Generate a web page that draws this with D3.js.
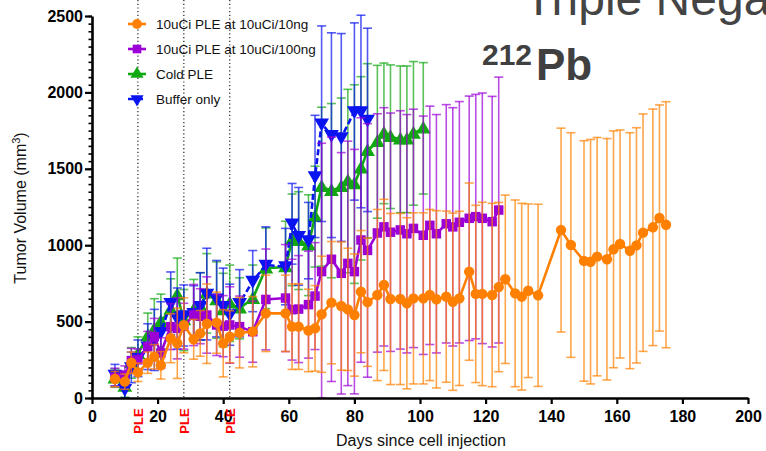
<!DOCTYPE html>
<html><head><meta charset="utf-8">
<script src="https://cdn.jsdelivr.net/npm/d3@7"></script>
<style>body{margin:0;background:#fff;overflow:hidden}svg{display:block}</style>
</head><body><svg id="c" width="766" height="451"></svg>
<script>
// ---------- DATA ----------
const seriesNames = ["10uCi PLE at 10uCi/10ng","10uCi PLE at 10uCi/100ng","Cold PLE","Buffer only"];
const xTicks = [0,20,40,60,80,100,120,140,160,180,200];
const yTicks = [0,500,1000,1500,2000,2500];
const pleDays = [14,28,42];

const orangeDays = [7,10,12,14,17,19,21,24,26,28,31,33,35,38,40,42,45,49,53,59,61,63,66,68,70,73,76,78,80,82,84,87,89,91,94,96,98,101,103,105,108,110,112,115,117,119,122,124,126,129,131,133,136,143,146,150,152,154,157,159,161,164,166,168,171,173,175];
const orangeVals = [124,107,231,168,231,270,214,391,358,476,384,423,486,493,358,401,427,434,554,554,467,467,442,456,548,624,602,580,543,696,627,674,740,648,648,620,652,652,674,646,663,630,652,827,681,681,674,726,777,685,663,702,672,1099,1001,897,892,925,908,973,1008,964,999,1082,1117,1178,1134];
const orangeErr = [50,50,70,60,70,80,90,160,230,180,130,150,260,200,220,170,230,230,250,250,280,280,270,280,380,400,420,400,400,400,420,560,560,560,560,560,560,560,560,580,560,580,570,580,580,600,600,554,551,611,611,568,596,667,735,787,800,780,790,775,746,772,770,777,774,740,805];

const purpleDays = [7,10,12,14,17,19,21,24,26,28,31,33,35,38,40,42,45,49,53,59,61,63,66,68,70,73,76,78,80,82,84,87,89,91,94,96,98,101,103,105,108,110,112,115,117,119,122,124];
const purpleVals = [135,150,245,250,336,401,294,467,456,470,543,535,543,478,470,478,467,434,645,654,578,582,611,667,827,908,816,881,827,1034,966,1080,1120,1085,1100,1075,1110,1065,1130,1075,1140,1120,1150,1176,1187,1176,1154,1230];
const purpleErr = [60,60,80,70,100,120,100,150,200,150,200,180,250,200,200,250,200,200,330,350,330,350,350,350,840,800,790,800,800,800,830,780,780,780,780,780,780,780,780,780,780,780,790,800,800,820,820,870];

const greenDays = [7,10,12,14,17,19,21,24,26,28,31,33,35,38,40,42,45,49,53,59,61,63,66,68,70,73,76,78,80,82,84,87,89,91,94,96,98,101];
const greenVals = [130,75,230,290,406,450,500,580,674,510,576,600,685,641,576,620,587,650,849,857,1035,1030,1000,1187,1383,1357,1383,1420,1400,1503,1618,1677,1732,1710,1693,1693,1732,1765];
const greenErr = [60,70,100,110,150,200,180,200,242,200,200,220,260,250,240,250,200,220,264,300,300,320,330,330,520,570,580,600,650,600,570,500,460,470,480,480,470,430];

const blueDays = [7,10,12,14,17,19,21,24,26,28,31,33,35,38,40,42,45,49,53,59,61,63,66,68,70,73,76,80,82,84];
const blueVals = [150,57,200,260,336,380,430,620,520,540,555,600,680,650,600,545,620,765,870,860,1140,1058,1030,1450,1795,1720,1705,1875,1875,1820];
const blueErr = [70,70,100,120,150,200,200,205,200,200,180,220,300,250,250,200,220,200,250,250,264,320,250,400,640,670,680,580,630,600];

// ---------- SETUP ----------
const svg = d3.select("#c");
const x = d3.scaleLinear().domain([0,200]).range([92,748]);
const y = d3.scaleLinear().domain([0,2500]).range([398,16]);
const FONT = "Arial, 'Liberation Sans', Helvetica, sans-serif";

const series = [
  {name:seriesNames[2], days:greenDays, vals:greenVals, err:greenErr, color:"#12a812", sym:d3.symbolTriangle, rot:0, size:95, dash:null},
  {name:seriesNames[3], days:blueDays, vals:blueVals, err:blueErr, color:"#0a14f0", sym:d3.symbolTriangle, rot:180, size:95, dash:"6,3"},
  {name:seriesNames[1], days:purpleDays, vals:purpleVals, err:purpleErr, color:"#9b00d6", sym:d3.symbolSquare, rot:0, size:90, dash:null},
  {name:seriesNames[0], days:orangeDays, vals:orangeVals, err:orangeErr, color:"#ff8000", sym:d3.symbolCircle, rot:0, size:85, dash:null}
];

// title (clipped at the top edge, as in the reference)
svg.append("text").attr("x",524).attr("y",15).attr("font-family",FONT).attr("font-size",48)
  .attr("fill","#444").text("Triple Negative");
const pb = svg.append("text").attr("font-family",FONT).attr("font-weight","bold").attr("fill","#404040");
pb.append("tspan").attr("x",482).attr("y",65).attr("font-size",30).text("212");
pb.append("tspan").attr("x",536).attr("y",80).attr("font-size",44).text("Pb");

// dotted PLE lines
svg.selectAll("line.ple").data(pleDays).enter().append("line")
  .attr("x1",d=>x(d)).attr("x2",d=>x(d)).attr("y1",0).attr("y2",y(0))
  .attr("stroke","#222").attr("stroke-width",1.2).attr("stroke-dasharray","1.2,2.5");

// series
svg.append("clipPath").attr("id","clp").append("rect").attr("x",80).attr("y",0).attr("width",686).attr("height",400);
series.forEach(s=>{
  const pts = s.days.map((d,i)=>({d, v:s.vals[i], e:s.err[i]}));
  const g = svg.append("g").attr("clip-path","url(#clp)");
  const eb = g.append("g").attr("stroke",s.color).attr("stroke-width",1.6).attr("stroke-opacity",0.7);
  pts.forEach(p=>{
    const lo = Math.max(0,p.v-p.e), hi = p.v+p.e;
    eb.append("line").attr("x1",x(p.d)).attr("x2",x(p.d)).attr("y1",y(lo)).attr("y2",y(hi));
    eb.append("line").attr("x1",x(p.d)-4.5).attr("x2",x(p.d)+4.5).attr("y1",y(hi)).attr("y2",y(hi));
    eb.append("line").attr("x1",x(p.d)-4.5).attr("x2",x(p.d)+4.5).attr("y1",y(lo)).attr("y2",y(lo));
  });
  g.append("path").datum(pts).attr("fill","none").attr("stroke",s.color).attr("stroke-width",2.6)
    .attr("stroke-dasharray",s.dash).attr("d",d3.line().x(p=>x(p.d)).y(p=>y(p.v)));
  g.selectAll("path.m").data(pts).enter().append("path")
    .attr("d",d3.symbol().type(s.sym).size(s.size))
    .attr("transform",p=>`translate(${x(p.d)},${y(p.v)+(s.sym===d3.symbolTriangle?(s.rot?-1:1):0)}) rotate(${s.rot})`)
    .attr("fill",s.color);
});

// axes
const yMinor = svg.append("g").attr("transform","translate(92,0)")
  .call(d3.axisLeft(y).tickValues(d3.range(0,2501,50)).tickSize(3.5).tickFormat(""));
yMinor.select(".domain").remove();
yMinor.selectAll("line").attr("stroke","#000").attr("stroke-width",1.6);
const yAx = svg.append("g").attr("transform","translate(92,0)")
  .call(d3.axisLeft(y).tickValues(yTicks).tickFormat(d3.format("d")).tickSize(7).tickSizeOuter(0).tickPadding(2));
yAx.select(".domain").attr("stroke","#000").attr("stroke-width",2.6);
yAx.selectAll("line").attr("stroke","#000").attr("stroke-width",2.2);
yAx.selectAll("text").attr("font-family",FONT).attr("font-weight","bold").attr("font-size",16).attr("fill","#000");

const xAx = svg.append("g").attr("transform","translate(0,398)")
  .call(d3.axisBottom(x).tickValues(xTicks).tickFormat(d3.format("d")).tickSize(6).tickSizeOuter(0).tickPadding(7));
xAx.select(".domain").attr("stroke","#000").attr("stroke-width",2.6);
xAx.selectAll("line").attr("stroke","#000").attr("stroke-width",2.2);
xAx.selectAll("text").attr("font-family",FONT).attr("font-weight","bold").attr("font-size",16).attr("fill","#000");

// PLE labels
svg.selectAll("text.ple").data(pleDays).enter().append("text")
  .attr("transform",d=>`translate(${x(d)+5},${421}) rotate(-90)`)
  .attr("text-anchor","middle").attr("font-family",FONT).attr("font-weight","bold")
  .attr("font-size",13).attr("fill","#ff0000").text("PLE");

// axis titles
svg.append("text").attr("x",421).attr("y",446).attr("text-anchor","middle")
  .attr("font-family",FONT).attr("font-size",16).attr("fill","#111").text("Days since cell injection");
const yt = svg.append("text").attr("transform","translate(26,208) rotate(-90)").attr("text-anchor","middle")
  .attr("font-family",FONT).attr("font-size",16).attr("fill","#111");
yt.append("tspan").text("Tumor Volume (mm");
yt.append("tspan").attr("font-size",11).attr("dy",-6).text("3");
yt.append("tspan").attr("dy",6).text(")");

// legend
const legOrder = [3,2,0,1];
legOrder.forEach((si,i)=>{
  const s = series[si];
  const ly = 24 + i*25;
  const lg = svg.append("g");
  lg.append("line").attr("x1",128).attr("x2",146).attr("y1",ly).attr("y2",ly)
    .attr("stroke",s.color).attr("stroke-width",2.6).attr("stroke-dasharray",s.dash);
  lg.append("path").attr("d",d3.symbol().type(s.sym).size(75))
    .attr("transform",`translate(137,${ly}) rotate(${s.rot})`).attr("fill",s.color);
  lg.append("text").attr("x",156).attr("y",ly+5).attr("font-family",FONT).attr("font-size",13.5)
    .attr("fill","#111").text(s.name);
});
</script></body></html>
